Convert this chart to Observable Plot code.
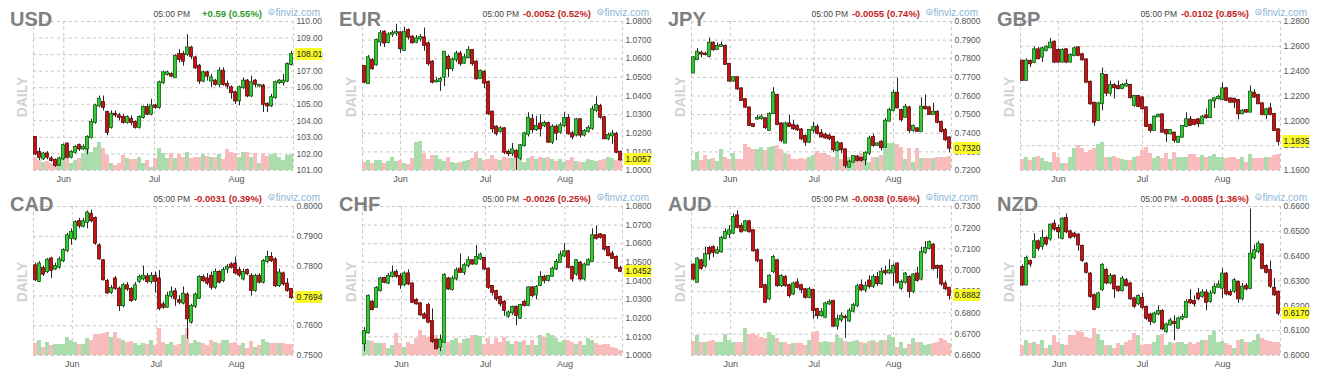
<!DOCTYPE html>
<html><head><meta charset="utf-8">
<script src="https://cdn.jsdelivr.net/npm/d3@7"></script>
<script src="https://cdn.jsdelivr.net/npm/@observablehq/plot@0.6"></script>
<style>
html,body{margin:0;padding:0;background:#fff;}
#root{position:relative;width:1324px;height:379px;overflow:hidden;font-family:"Liberation Sans",Arial,sans-serif;}
.panel{position:absolute;width:329px;height:185px;}
.panel svg{position:absolute;left:0;top:0;overflow:visible;}
.pbox{position:absolute;height:12px;width:27.5px;background:#fbfb2a;color:#222;font-size:8.5px;line-height:12px;padding-left:2px;box-sizing:border-box;border-radius:1px;}
</style></head>
<body><div id="root"></div>
<script>
// ---------- data ----------
const monthNames = ["Jun", "Jul", "Aug"];

const usdO = [103.0,102.1,101.7,102.0,101.7,101.6,101.3,101.7,102.6,101.8,102.1,102.5,102.3,102.3,103.0,103.9,104.9,105.1,104.5,103.6,104.4,104.3,104.2,103.9,104.1,103.9,103.6,104.2,104.8,104.4,104.9,104.8,106.3,106.8,106.8,106.6,108.0,108.0,108.0,108.4,107.8,107.3,106.4,106.9,106.4,106.4,106.2,107.0,106.2,106.0,105.7,105.2,106.0,106.4,105.5,106.4,106.1,106.1,105.0,104.9,105.4,106.3,106.3,106.4,107.4];
const usdC = [102.0,101.8,102.0,101.8,101.6,101.3,101.7,102.5,101.8,102.1,102.4,102.3,102.4,103.0,103.9,104.9,105.3,104.8,103.3,104.4,104.35,104.2,103.9,104.2,103.9,103.6,104.2,104.8,104.4,104.9,104.8,106.3,106.9,106.9,106.7,107.9,107.7,107.6,108.4,107.9,107.2,106.4,106.9,106.7,106.6,106.2,107.0,106.2,106.1,105.7,105.2,106.0,106.4,105.5,106.3,106.2,106.15,105.0,104.9,105.4,106.3,106.4,106.4,107.4,108.01];
const usdH = [103.05,102.35,102.1,102.15,101.85,101.7,101.8,102.6,102.65,102.2,102.5,102.6,102.55,103.1,104.1,105.0,105.5,105.5,104.6,104.6,104.6,104.45,104.4,104.3,104.3,104.0,104.3,104.9,105.0,105.3,105.0,106.4,107.0,107.0,106.9,108.0,108.3,108.2,109.2,108.5,107.9,107.4,107.0,107.0,106.8,106.5,107.2,107.2,106.4,106.1,105.8,106.1,106.6,106.5,106.7,106.5,106.2,106.2,105.1,105.6,106.4,106.5,106.8,107.5,108.2];
const usdL = [101.9,101.6,101.6,101.65,101.5,101.2,101.25,101.6,101.7,101.7,102.0,102.15,102.2,101.95,102.9,103.8,104.8,104.6,103.1,103.5,104.2,104.0,103.8,103.8,103.7,103.5,103.5,104.1,104.3,104.3,104.7,104.7,106.2,106.7,106.6,106.6,107.5,107.3,107.9,107.7,107.1,106.2,106.3,106.4,106.0,106.1,106.0,106.1,105.9,105.3,105.0,104.9,105.9,105.4,105.4,106.0,106.0,104.5,104.5,104.8,105.3,106.2,106.1,106.3,107.3];
const usdV = [13,10,8,9,7,7,11,16,13,7,10,12,17,23,18,23,28,22,15,7,5,7,15,12,11,11,13,7,10,3,12,22,17,12,17,12,16,13,18,12,13,13,16,14,13,13,16,11,21,18,17,13,18,18,13,17,7,17,14,16,17,13,10,15,16];

const eurO = [1.0558,1.0466,1.0591,1.0567,1.0690,1.0743,1.0688,1.0730,1.0737,1.0739,1.0644,1.0752,1.0716,1.0689,1.0706,1.0712,1.0680,1.0582,1.0476,1.0478,1.0501,1.0608,1.0546,1.0594,1.0626,1.0576,1.0605,1.0644,1.0582,1.0494,1.0528,1.0474,1.0313,1.0233,1.0210,1.0224,1.0098,1.0090,1.0102,1.0066,1.0133,1.0195,1.0273,1.0219,1.0250,1.0240,1.0252,1.0152,1.0233,1.0206,1.0240,1.0280,1.0197,1.0190,1.0272,1.0190,1.0210,1.0226,1.0322,1.0344,1.0283,1.0170,1.0186,1.0194,1.0098];
const eurC = [1.0474,1.0605,1.0546,1.0698,1.0734,1.0684,1.0728,1.0737,1.0742,1.0653,1.0743,1.0716,1.0685,1.0707,1.0714,1.0671,1.0573,1.0474,1.0480,1.0489,1.0635,1.0546,1.0594,1.0626,1.0573,1.0605,1.0644,1.0573,1.0492,1.0533,1.0469,1.0304,1.0224,1.0197,1.0224,1.0098,1.0090,1.0111,1.0072,1.0133,1.0197,1.0281,1.0219,1.0236,1.0223,1.0252,1.0152,1.0233,1.0200,1.0240,1.0280,1.0197,1.0180,1.0272,1.0190,1.0210,1.0226,1.0326,1.0350,1.0286,1.0170,1.0188,1.0196,1.0098,1.0057];
const eurH = [1.0562,1.0618,1.0600,1.0706,1.0752,1.0750,1.0740,1.0750,1.0785,1.0745,1.0770,1.0760,1.0725,1.0725,1.0730,1.0765,1.0690,1.0590,1.0500,1.0500,1.0640,1.0620,1.0605,1.0640,1.0640,1.0625,1.0665,1.0650,1.0590,1.0540,1.0535,1.0480,1.0320,1.0240,1.0235,1.0230,1.0110,1.0145,1.0112,1.0140,1.0205,1.0310,1.0300,1.0290,1.0300,1.0265,1.0260,1.0245,1.0245,1.0255,1.0310,1.0300,1.0210,1.0280,1.0280,1.0220,1.0240,1.0345,1.0395,1.0355,1.0290,1.0200,1.0215,1.0205,1.0105];
const eurL = [1.0465,1.0462,1.0538,1.0560,1.0665,1.0660,1.0680,1.0715,1.0720,1.0630,1.0640,1.0700,1.0680,1.0680,1.0690,1.0640,1.0560,1.0465,1.0470,1.0425,1.0450,1.0500,1.0530,1.0580,1.0560,1.0570,1.0600,1.0560,1.0485,1.0490,1.0440,1.0295,1.0200,1.0185,1.0200,1.0085,1.0075,1.0075,1.0000,1.0055,1.0125,1.0180,1.0200,1.0210,1.0180,1.0230,1.0145,1.0140,1.0160,1.0195,1.0230,1.0190,1.0165,1.0180,1.0175,1.0180,1.0200,1.0215,1.0310,1.0275,1.0165,1.0160,1.0140,1.0090,1.0050];
const eurV = [8,10,7,10,10,7,9,13,9,10,7,6,12,28,29,17,11,15,15,11,9,13,8,7,8,9,10,12,18,12,10,11,15,11,10,13,12,12,13,12,8,12,14,11,13,12,13,11,9,11,8,10,13,9,8,8,11,10,9,10,11,13,12,10,11];

const jpyO = [0.7723,0.7795,0.7830,0.7825,0.7812,0.7884,0.7850,0.7866,0.7866,0.7770,0.7680,0.7698,0.7638,0.7580,0.7536,0.7447,0.7476,0.7478,0.7478,0.7415,0.7505,0.7603,0.7450,0.7347,0.7450,0.7441,0.7436,0.7418,0.7382,0.7352,0.7415,0.7432,0.7398,0.7390,0.7385,0.7378,0.7307,0.7343,0.7311,0.7218,0.7245,0.7272,0.7266,0.7257,0.7293,0.7378,0.7334,0.7352,0.7325,0.7465,0.7522,0.7615,0.7522,0.7486,0.7536,0.7415,0.7424,0.7410,0.7540,0.7536,0.7501,0.7513,0.7459,0.7415,0.7375];
const jpyC = [0.7805,0.7835,0.7825,0.7822,0.7884,0.7848,0.7866,0.7872,0.7770,0.7680,0.7698,0.7638,0.7576,0.7540,0.7442,0.7436,0.7480,0.7487,0.7430,0.7500,0.7616,0.7447,0.7361,0.7450,0.7436,0.7424,0.7418,0.7370,0.7352,0.7415,0.7430,0.7398,0.7380,0.7375,0.7370,0.7311,0.7347,0.7311,0.7227,0.7245,0.7275,0.7254,0.7254,0.7293,0.7370,0.7334,0.7343,0.7322,0.7465,0.7522,0.7615,0.7536,0.7472,0.7540,0.7415,0.7436,0.7410,0.7540,0.7531,0.7500,0.7513,0.7459,0.7410,0.7365,0.7320];
const jpyH = [0.7812,0.7855,0.7840,0.7835,0.7912,0.7890,0.7885,0.7890,0.7875,0.7775,0.7705,0.7705,0.7645,0.7585,0.7540,0.7450,0.7495,0.7500,0.7485,0.7510,0.7645,0.7610,0.7455,0.7460,0.7495,0.7470,0.7445,0.7425,0.7390,0.7420,0.7460,0.7445,0.7420,0.7400,0.7395,0.7385,0.7355,0.7350,0.7315,0.7255,0.7280,0.7280,0.7270,0.7300,0.7385,0.7395,0.7350,0.7360,0.7480,0.7535,0.7630,0.7695,0.7530,0.7555,0.7545,0.7445,0.7430,0.7590,0.7605,0.7545,0.7560,0.7520,0.7465,0.7425,0.7380];
const jpyL = [0.7720,0.7790,0.7805,0.7815,0.7805,0.7840,0.7845,0.7860,0.7765,0.7675,0.7675,0.7630,0.7570,0.7535,0.7435,0.7430,0.7470,0.7470,0.7420,0.7410,0.7500,0.7440,0.7350,0.7345,0.7430,0.7415,0.7410,0.7360,0.7330,0.7345,0.7400,0.7390,0.7375,0.7368,0.7360,0.7295,0.7300,0.7290,0.7210,0.7212,0.7240,0.7245,0.7245,0.7225,0.7280,0.7325,0.7328,0.7305,0.7320,0.7460,0.7515,0.7530,0.7460,0.7480,0.7400,0.7405,0.7405,0.7405,0.7525,0.7495,0.7495,0.7450,0.7400,0.7355,0.7295];
const jpyV = [10,18,10,15,11,12,9,21,13,11,17,11,11,26,23,21,21,23,20,23,24,25,21,17,16,11,11,12,11,13,15,19,17,17,15,13,20,11,15,13,10,11,17,13,8,13,13,15,28,27,27,26,23,11,22,8,22,12,12,12,12,13,13,13,14];

const gbpO = [1.2481,1.2325,1.2478,1.2470,1.2572,1.2513,1.2567,1.2588,1.2633,1.2567,1.2473,1.2572,1.2473,1.2526,1.2588,1.2532,1.2491,1.2311,1.2142,1.2003,1.2137,1.2365,1.2223,1.2285,1.2277,1.2260,1.2280,1.2285,1.2124,1.2196,1.2185,1.2105,1.1962,1.1922,1.2032,1.2048,1.1922,1.1895,1.1901,1.1828,1.1868,1.1954,1.2008,1.2003,1.2008,1.1976,1.2040,1.2025,1.2160,1.2177,1.2170,1.2258,1.2177,1.2175,1.2164,1.2056,1.2083,1.2070,1.2223,1.2204,1.2137,1.2048,1.2097,1.2051,1.1928];
const gbpC = [1.2325,1.2481,1.2459,1.2572,1.2500,1.2580,1.2593,1.2626,1.2473,1.2473,1.2567,1.2473,1.2526,1.2580,1.2526,1.2491,1.2311,1.2137,1.1989,1.2137,1.2373,1.2223,1.2285,1.2266,1.2258,1.2285,1.2292,1.2186,1.2196,1.2115,1.2097,1.1954,1.1922,1.2030,1.2043,1.1909,1.1895,1.1922,1.1842,1.1868,1.1954,1.2008,1.1962,1.1970,1.1976,1.2030,1.2025,1.2160,1.2177,1.2190,1.2258,1.2164,1.2150,1.2150,1.2056,1.2078,1.2070,1.2231,1.2191,1.2137,1.2051,1.2089,1.2051,1.1922,1.1835];
const gbpH = [1.2490,1.2500,1.2490,1.2595,1.2590,1.2595,1.2605,1.2665,1.2645,1.2580,1.2580,1.2580,1.2540,1.2595,1.2595,1.2545,1.2500,1.2320,1.2150,1.2150,1.2425,1.2375,1.2320,1.2300,1.2320,1.2300,1.2330,1.2295,1.2205,1.2205,1.2195,1.2110,1.1975,1.2040,1.2055,1.2055,1.1930,1.1930,1.1910,1.1875,1.1960,1.2065,1.2035,1.2010,1.2020,1.2045,1.2095,1.2170,1.2185,1.2205,1.2305,1.2270,1.2185,1.2180,1.2170,1.2090,1.2090,1.2280,1.2250,1.2215,1.2145,1.2100,1.2140,1.2060,1.1935];
const gbpL = [1.2318,1.2318,1.2430,1.2460,1.2490,1.2470,1.2555,1.2580,1.2460,1.2465,1.2465,1.2460,1.2465,1.2515,1.2515,1.2480,1.2300,1.2125,1.1955,1.1995,1.2080,1.2195,1.2200,1.2175,1.2250,1.2250,1.2270,1.2175,1.2110,1.2105,1.2085,1.1945,1.1900,1.1915,1.2025,1.1900,1.1825,1.1885,1.1820,1.1820,1.1860,1.1945,1.1955,1.1960,1.1945,1.1970,1.2010,1.2020,1.2100,1.2170,1.2165,1.2155,1.2140,1.2100,1.2010,1.2050,1.2060,1.2065,1.2180,1.2130,1.2040,1.2010,1.2040,1.1915,1.1800];
const gbpV = [11,13,10,13,14,12,9,8,18,13,7,7,13,22,25,22,18,20,22,26,28,13,13,14,12,11,10,10,13,14,20,23,17,12,14,12,17,11,18,13,13,13,16,16,13,15,13,14,16,13,13,12,13,13,11,13,8,16,12,12,12,13,13,15,16];

const cadO = [0.7801,0.7748,0.7792,0.7781,0.7824,0.7790,0.7796,0.7818,0.7852,0.7893,0.7891,0.7949,0.7933,0.7946,0.7974,0.7960,0.7868,0.7818,0.7748,0.7712,0.7757,0.7723,0.7667,0.7734,0.7721,0.7688,0.7748,0.7757,0.7764,0.7748,0.7766,0.7757,0.7670,0.7662,0.7699,0.7714,0.7684,0.7676,0.7703,0.7612,0.7665,0.7692,0.7762,0.7757,0.7766,0.7729,0.7779,0.7751,0.7790,0.7804,0.7807,0.7785,0.7757,0.7785,0.7766,0.7718,0.7766,0.7746,0.7815,0.7829,0.7821,0.7734,0.7774,0.7740,0.7721];
const cadC = [0.7754,0.7807,0.7773,0.7820,0.7785,0.7799,0.7821,0.7852,0.7902,0.7913,0.7946,0.7935,0.7949,0.7978,0.7952,0.7877,0.7824,0.7754,0.7710,0.7725,0.7725,0.7667,0.7734,0.7723,0.7684,0.7734,0.7762,0.7766,0.7748,0.7766,0.7748,0.7658,0.7662,0.7699,0.7712,0.7690,0.7679,0.7706,0.7623,0.7665,0.7703,0.7762,0.7751,0.7743,0.7729,0.7779,0.7746,0.7785,0.7796,0.7796,0.7777,0.7770,0.7779,0.7774,0.7718,0.7766,0.7746,0.7815,0.7829,0.7818,0.7734,0.7777,0.7740,0.7718,0.7694];
const cadH = [0.7810,0.7815,0.7800,0.7825,0.7830,0.7810,0.7830,0.7858,0.7910,0.7925,0.7952,0.7960,0.7960,0.7985,0.7988,0.7965,0.7875,0.7822,0.7755,0.7735,0.7765,0.7730,0.7742,0.7745,0.7728,0.7745,0.7770,0.7800,0.7775,0.7778,0.7780,0.7785,0.7680,0.7712,0.7730,0.7725,0.7700,0.7730,0.7710,0.7672,0.7710,0.7768,0.7770,0.7775,0.7780,0.7790,0.7785,0.7795,0.7805,0.7812,0.7830,0.7795,0.7790,0.7790,0.7775,0.7772,0.7775,0.7822,0.7850,0.7845,0.7828,0.7790,0.7780,0.7758,0.7725];
const cadL = [0.7748,0.7745,0.7765,0.7775,0.7758,0.7785,0.7790,0.7812,0.7845,0.7870,0.7885,0.7925,0.7928,0.7925,0.7945,0.7870,0.7820,0.7750,0.7705,0.7705,0.7718,0.7648,0.7660,0.7715,0.7678,0.7682,0.7742,0.7750,0.7740,0.7740,0.7710,0.7650,0.7655,0.7658,0.7690,0.7665,0.7670,0.7670,0.7555,0.7605,0.7658,0.7688,0.7745,0.7735,0.7720,0.7722,0.7740,0.7745,0.7775,0.7790,0.7770,0.7762,0.7750,0.7768,0.7700,0.7712,0.7740,0.7740,0.7808,0.7812,0.7728,0.7728,0.7732,0.7712,0.7688];
const cadV = [12,15,8,13,10,11,11,11,18,15,13,11,11,17,15,21,21,22,23,18,23,17,15,13,14,12,10,12,11,15,10,27,13,11,13,10,11,20,27,12,15,13,12,10,15,13,12,15,15,12,13,10,12,7,14,8,10,16,13,12,12,12,12,11,11];

const chfO = [1.0063,1.0121,1.0286,1.0259,1.0348,1.0414,1.0389,1.0425,1.0446,1.0425,1.0379,1.0438,1.0384,1.0295,1.0277,1.0218,1.0268,1.0182,1.0080,1.0045,1.0071,1.0411,1.0355,1.0411,1.0464,1.0446,1.0482,1.0509,1.0491,1.0518,1.0521,1.0464,1.0371,1.0343,1.0312,1.0286,1.0211,1.0229,1.0259,1.0200,1.0286,1.0268,1.0363,1.0325,1.0375,1.0420,1.0402,1.0425,1.0464,1.0500,1.0534,1.0557,1.0473,1.0437,1.0496,1.0411,1.0486,1.0504,1.0643,1.0648,1.0643,1.0580,1.0545,1.0527,1.0468];
const chfC = [1.0129,1.0318,1.0246,1.0361,1.0411,1.0393,1.0425,1.0443,1.0425,1.0379,1.0438,1.0384,1.0286,1.0277,1.0218,1.0200,1.0179,1.0075,1.0036,1.0080,1.0429,1.0357,1.0411,1.0455,1.0446,1.0482,1.0509,1.0491,1.0527,1.0539,1.0464,1.0366,1.0339,1.0304,1.0277,1.0241,1.0229,1.0259,1.0214,1.0268,1.0268,1.0363,1.0321,1.0366,1.0420,1.0402,1.0425,1.0464,1.0500,1.0539,1.0557,1.0473,1.0411,1.0509,1.0411,1.0486,1.0509,1.0643,1.0629,1.0634,1.0571,1.0536,1.0521,1.0468,1.0452];
const chfH = [1.0150,1.0325,1.0295,1.0370,1.0420,1.0420,1.0440,1.0480,1.0460,1.0440,1.0450,1.0460,1.0390,1.0305,1.0285,1.0230,1.0280,1.0250,1.0090,1.0110,1.0440,1.0420,1.0425,1.0470,1.0545,1.0495,1.0530,1.0515,1.0590,1.0550,1.0525,1.0470,1.0375,1.0350,1.0320,1.0295,1.0240,1.0265,1.0265,1.0275,1.0295,1.0370,1.0370,1.0375,1.0450,1.0430,1.0430,1.0475,1.0515,1.0560,1.0600,1.0565,1.0480,1.0515,1.0505,1.0495,1.0520,1.0680,1.0695,1.0655,1.0650,1.0585,1.0560,1.0535,1.0480];
const chfL = [1.0020,1.0115,1.0240,1.0255,1.0340,1.0385,1.0380,1.0415,1.0415,1.0355,1.0370,1.0375,1.0280,1.0270,1.0210,1.0195,1.0170,1.0065,1.0030,1.0020,1.0065,1.0350,1.0345,1.0400,1.0440,1.0430,1.0470,1.0485,1.0485,1.0510,1.0455,1.0355,1.0320,1.0290,1.0260,1.0210,1.0200,1.0215,1.0160,1.0195,1.0260,1.0262,1.0310,1.0300,1.0370,1.0385,1.0395,1.0420,1.0455,1.0495,1.0525,1.0465,1.0395,1.0425,1.0400,1.0400,1.0480,1.0500,1.0620,1.0625,1.0560,1.0530,1.0515,1.0460,1.0445];
const chfV = [13,15,14,12,12,12,7,10,22,12,8,13,11,17,25,20,18,17,20,17,17,13,15,17,12,16,17,20,20,19,11,17,11,17,13,18,14,11,14,13,15,10,15,10,20,18,22,20,17,13,15,15,13,11,14,10,17,15,12,10,11,11,8,7,5];

const audO = [0.7025,0.6944,0.7045,0.7020,0.7103,0.7108,0.7081,0.7087,0.7150,0.7170,0.7175,0.7256,0.7206,0.7186,0.7228,0.7186,0.7092,0.7045,0.6928,0.6866,0.6994,0.7045,0.6928,0.6967,0.6928,0.6889,0.6941,0.6928,0.6909,0.6873,0.6905,0.6816,0.6787,0.6780,0.6842,0.6853,0.6738,0.6767,0.6780,0.6762,0.6808,0.6834,0.6928,0.6908,0.6950,0.6925,0.6966,0.6937,0.6994,0.6988,0.6988,0.7030,0.6916,0.6944,0.6967,0.6900,0.6983,0.6959,0.7084,0.7103,0.7119,0.7019,0.7019,0.6936,0.6916];
const audC = [0.6959,0.7053,0.7009,0.7075,0.7077,0.7084,0.7092,0.7150,0.7178,0.7186,0.7248,0.7202,0.7181,0.7228,0.7181,0.7092,0.7045,0.6920,0.6850,0.6972,0.7061,0.6928,0.6972,0.6928,0.6881,0.6936,0.6920,0.6909,0.6873,0.6909,0.6811,0.6787,0.6803,0.6842,0.6850,0.6738,0.6769,0.6784,0.6777,0.6808,0.6834,0.6923,0.6908,0.6925,0.6925,0.6966,0.6937,0.6991,0.6988,0.6998,0.7019,0.6944,0.6944,0.6983,0.6900,0.6978,0.6952,0.7084,0.7103,0.7131,0.7009,0.7009,0.6936,0.6913,0.6882];
const audH = [0.7030,0.7060,0.7052,0.7110,0.7112,0.7115,0.7110,0.7160,0.7195,0.7210,0.7265,0.7280,0.7220,0.7235,0.7235,0.7190,0.7100,0.7050,0.6935,0.6980,0.7070,0.7052,0.6980,0.6975,0.6935,0.6945,0.6960,0.6935,0.6915,0.6920,0.6912,0.6822,0.6820,0.6850,0.6862,0.6860,0.6790,0.6800,0.6790,0.6820,0.6845,0.6935,0.6955,0.6945,0.6975,0.6980,0.6990,0.7010,0.7020,0.7050,0.7030,0.7035,0.6955,0.6990,0.6975,0.6985,0.7015,0.7110,0.7135,0.7138,0.7125,0.7025,0.7025,0.6950,0.6920];
const audL = [0.6950,0.6940,0.7000,0.7010,0.7045,0.7060,0.7075,0.7080,0.7145,0.7150,0.7168,0.7195,0.7175,0.7180,0.7175,0.7085,0.7035,0.6915,0.6845,0.6858,0.6985,0.6920,0.6920,0.6920,0.6870,0.6882,0.6912,0.6890,0.6865,0.6866,0.6770,0.6770,0.6780,0.6772,0.6835,0.6730,0.6720,0.6755,0.6680,0.6755,0.6800,0.6825,0.6900,0.6895,0.6912,0.6915,0.6925,0.6930,0.6975,0.6980,0.6925,0.6935,0.6905,0.6935,0.6870,0.6890,0.6945,0.6950,0.7075,0.7095,0.7000,0.6960,0.6925,0.6905,0.6860];
const audV = [14,20,13,13,14,15,13,13,21,15,13,13,13,27,21,22,20,18,17,23,20,17,13,13,11,12,12,12,10,15,23,24,13,14,13,13,20,17,14,13,14,15,13,12,14,15,13,15,15,20,18,8,13,7,11,17,13,13,10,11,12,13,17,15,12];

const nzdO = [0.6355,0.6284,0.6378,0.6395,0.6458,0.6439,0.6471,0.6469,0.6529,0.6512,0.6471,0.6552,0.6498,0.6489,0.6485,0.6439,0.6368,0.6328,0.6241,0.6194,0.6265,0.6342,0.6292,0.6319,0.6275,0.6261,0.6301,0.6288,0.6228,0.6208,0.6230,0.6194,0.6163,0.6134,0.6167,0.6177,0.6096,0.6123,0.6134,0.6110,0.6147,0.6154,0.6222,0.6217,0.6248,0.6238,0.6252,0.6217,0.6252,0.6275,0.6271,0.6328,0.6254,0.6258,0.6295,0.6228,0.6279,0.6270,0.6393,0.6418,0.6445,0.6359,0.6342,0.6271,0.6255];
const nzdC = [0.6284,0.6391,0.6368,0.6458,0.6431,0.6471,0.6449,0.6525,0.6509,0.6498,0.6549,0.6498,0.6475,0.6479,0.6445,0.6382,0.6335,0.6238,0.6185,0.6248,0.6362,0.6292,0.6319,0.6268,0.6261,0.6308,0.6281,0.6228,0.6198,0.6238,0.6194,0.6150,0.6137,0.6167,0.6177,0.6107,0.6123,0.6139,0.6128,0.6147,0.6154,0.6214,0.6212,0.6208,0.6228,0.6252,0.6214,0.6248,0.6275,0.6284,0.6328,0.6248,0.6244,0.6301,0.6228,0.6275,0.6268,0.6408,0.6422,0.6449,0.6351,0.6335,0.6279,0.6244,0.6170];
const nzdH = [0.6365,0.6400,0.6385,0.6490,0.6465,0.6505,0.6480,0.6530,0.6545,0.6525,0.6555,0.6570,0.6505,0.6495,0.6490,0.6445,0.6375,0.6335,0.6248,0.6255,0.6370,0.6350,0.6330,0.6325,0.6280,0.6318,0.6310,0.6295,0.6235,0.6245,0.6250,0.6200,0.6170,0.6175,0.6200,0.6185,0.6130,0.6150,0.6160,0.6155,0.6165,0.6225,0.6265,0.6240,0.6270,0.6265,0.6265,0.6260,0.6290,0.6300,0.6350,0.6335,0.6265,0.6310,0.6300,0.6290,0.6290,0.6590,0.6445,0.6460,0.6450,0.6365,0.6380,0.6310,0.6260];
const nzdL = [0.6278,0.6280,0.6355,0.6390,0.6420,0.6425,0.6440,0.6460,0.6500,0.6470,0.6465,0.6490,0.6468,0.6470,0.6420,0.6375,0.6328,0.6230,0.6180,0.6188,0.6258,0.6285,0.6285,0.6230,0.6255,0.6255,0.6275,0.6222,0.6190,0.6200,0.6185,0.6140,0.6120,0.6128,0.6160,0.6100,0.6090,0.6118,0.6060,0.6105,0.6140,0.6148,0.6205,0.6195,0.6220,0.6230,0.6180,0.6210,0.6245,0.6270,0.6230,0.6240,0.6238,0.6250,0.6210,0.6220,0.6260,0.6265,0.6385,0.6410,0.6345,0.6328,0.6270,0.6238,0.6160];
const nzdV = [10,15,12,13,11,15,7,10,20,13,11,10,20,20,24,23,18,17,27,21,15,10,10,7,12,10,13,15,22,20,10,11,11,13,20,21,10,13,12,13,13,11,13,11,13,15,15,20,24,13,14,12,10,7,15,16,13,13,15,21,17,15,14,13,13];

// panel labels, change text, y-axis domain/ticks, month tick positions (candle index)
const names   = ["USD","EUR","JPY","GBP","CAD","CHF","AUD","NZD"];
const changes = ["+0.59 (0.55%)","-0.0052 (0.52%)","-0.0055 (0.74%)","-0.0102 (0.85%)","-0.0031 (0.39%)","-0.0026 (0.25%)","-0.0038 (0.56%)","-0.0085 (1.36%)"];
const yDomains = [[101,110],[1.00,1.08],[0.72,0.80],[1.16,1.28],[0.75,0.80],[1.00,1.08],[0.66,0.73],[0.60,0.66]];
const ySteps  = [1,0.01,0.01,0.02,0.01,0.01,0.01,0.01];
const yDecimals = [2,4,4,4,4,4,4,4];
const monthTicks = [[7.07,29.75,50.25],[9.0,30.25,50.1],[9.2,30.2,50.0],[9.0,30.0,50.0],[9.2,30.2,50.25],[9.25,30.25,50.1],[9.3,30.2,50.0],[9.2,30.0,50.0]];
const series = [
  [usdO,usdH,usdL,usdC,usdV],[eurO,eurH,eurL,eurC,eurV],[jpyO,jpyH,jpyL,jpyC,jpyV],[gbpO,gbpH,gbpL,gbpC,gbpV],
  [cadO,cadH,cadL,cadC,cadV],[chfO,chfH,chfL,chfC,chfV],[audO,audH,audL,audC,audV],[nzdO,nzdH,nzdL,nzdC,nzdV]
];

// ---------- drawing ----------
const FONT = '"Liberation Sans", Arial, sans-serif';
const W = 329, H = 185, ML = 33, MR = 36, MT = 21, MB = 15;
const GRID = "#c6c6c6";
const UPF = "#2fcb2f", UPS = "#0c4a0c", DNF = "#c71212", DNS = "#4a0606";
const VUP = "#abdcab", VDN = "#f9bcbc";

function drawPanel(k) {
  const col = k % 4, row = Math.floor(k / 4);
  const root = document.getElementById("root");
  const div = document.createElement("div");
  div.className = "panel";
  div.style.left = (col * 329) + "px";
  div.style.top = (row * 185) + "px";
  root.appendChild(div);

  const [O, Hh, L, C, V] = series[k];
  const n = C.length;
  const rows = C.map((c, i) => ({i, o: O[i], h: Hh[i], l: L[i], c, v: V[i] ?? 0, up: c >= O[i]}));
  const [lo, hi] = yDomains[k];
  const nt = Math.round((hi - lo) / ySteps[k]);
  const yTicks = d3.range(nt + 1).map(j => +(lo + j * ySteps[k]).toFixed(4));
  const months = monthTicks[k];
  const monthLabel = new Map(months.map((m, j) => [m, monthNames[j]]));
  const base = {
    width: W, height: H, marginLeft: ML, marginRight: MR, marginTop: MT, marginBottom: MB,
    style: {background: "transparent", fontFamily: FONT, overflow: "visible"}
  };

  const grid = Plot.plot({
    ...base,
    x: {domain: [-0.5, n - 0.5]},
    y: {domain: [lo, hi]},
    marks: [
      Plot.gridY(yTicks, {stroke: GRID, strokeOpacity: 1, strokeDasharray: "3,3"}),
      Plot.gridX([-0.5, ...months, n - 0.5], {stroke: GRID, strokeOpacity: 1, strokeDasharray: "3,3"}),
      Plot.axisY(yTicks, {anchor: "right", tickSize: 0, tickPadding: 3, tickFormat: d => d.toFixed(yDecimals[k]), fontSize: 8.5, fill: "#555", label: null}),
      Plot.axisX(months, {anchor: "bottom", tickSize: 0, tickPadding: 5, tickFormat: d => monthLabel.get(d), fontSize: 9, fill: "#555", label: null})
    ]
  });

  const vol = Plot.plot({
    ...base,
    x: {domain: [-0.5, n - 0.5], axis: null},
    y: {domain: [0, 149], axis: null},
    marks: [
      Plot.rect(rows, {filter: d => d.up, x1: d => d.i - 0.5, x2: d => d.i + 0.5, y1: d => 0, y2: "v", fill: VUP}),
      Plot.rect(rows, {filter: d => !d.up, x1: d => d.i - 0.5, x2: d => d.i + 0.5, y1: d => 0, y2: "v", fill: VDN})
    ]
  });

  const cand = Plot.plot({
    ...base,
    x: {domain: [-0.5, n - 0.5], axis: null},
    y: {domain: [lo, hi], axis: null},
    marks: [
      Plot.ruleX(rows, {x: "i", y1: "l", y2: "h", stroke: "#262626", strokeWidth: 1}),
      Plot.rect(rows, {filter: d => d.up, x1: d => d.i - 0.4, x2: d => d.i + 0.4, y1: "o", y2: "c", insetTop: -0.5, insetBottom: -0.5, fill: UPF, stroke: UPS, strokeWidth: 0.7}),
      Plot.rect(rows, {filter: d => !d.up, x1: d => d.i - 0.4, x2: d => d.i + 0.4, y1: "o", y2: "c", insetTop: -0.5, insetBottom: -0.5, fill: DNF, stroke: DNS, strokeWidth: 0.7})
    ]
  });

  div.appendChild(grid);
  div.appendChild(vol);
  div.appendChild(cand);

  // decorations: title, DAILY, header
  const deco = d3.create("svg").attr("width", W).attr("height", H)
    .style("font-family", FONT);
  deco.append("text").attr("x", ML - 23).attr("y", MT + 4.5)
    .attr("font-size", 20).attr("font-weight", "bold").attr("fill", "#7f7f7f").text(names[k]);
  deco.append("text").attr("transform", `translate(${ML - 11},${MT + 76}) rotate(-90)`)
    .attr("text-anchor", "middle").attr("dominant-baseline", "central")
    .attr("font-size", 14).attr("font-weight", "bold").attr("fill", "#d2d2d2").text("DAILY");
  deco.append("text").attr("x", ML + 157).attr("y", MT - 4.5).attr("text-anchor", "end")
    .attr("font-size", 8.5).attr("fill", "#444").text("05:00 PM");
  const pos = changes[k].startsWith("+");
  deco.append("text").attr("x", ML + 229).attr("y", MT - 4.5).attr("text-anchor", "end")
    .attr("font-size", 9.5).attr("font-weight", "bold").attr("fill", pos ? "#2f9a2f" : "#c21d1d").text(changes[k]);
  deco.append("circle").attr("cx", ML + 238.5).attr("cy", MT - 9).attr("r", 2.8)
    .attr("fill", "none").attr("stroke", "#8db5d5").attr("stroke-width", 0.9);
  deco.append("text").attr("x", ML + 238.5).attr("y", MT - 7.3).attr("text-anchor", "middle")
    .attr("font-size", 4.5).attr("font-weight", "bold").attr("fill", "#8db5d5").text("s");
  deco.append("text").attr("x", ML + 287).attr("y", MT - 5).attr("text-anchor", "end")
    .attr("font-size", 10).attr("fill", "#8db5d5").text("finviz.com");
  div.appendChild(deco.node());

  // last price box
  const last = C[n - 1];
  const py = cand.scale("y").apply(last);
  const box = document.createElement("div");
  box.className = "pbox";
  box.style.left = (ML + 260 + 1.5) + "px";
  box.style.top = (py - 6) + "px";
  box.textContent = last.toFixed(yDecimals[k]);
  div.appendChild(box);
}

for (let k = 0; k < 8; k++) drawPanel(k);
</script>
</body></html>
